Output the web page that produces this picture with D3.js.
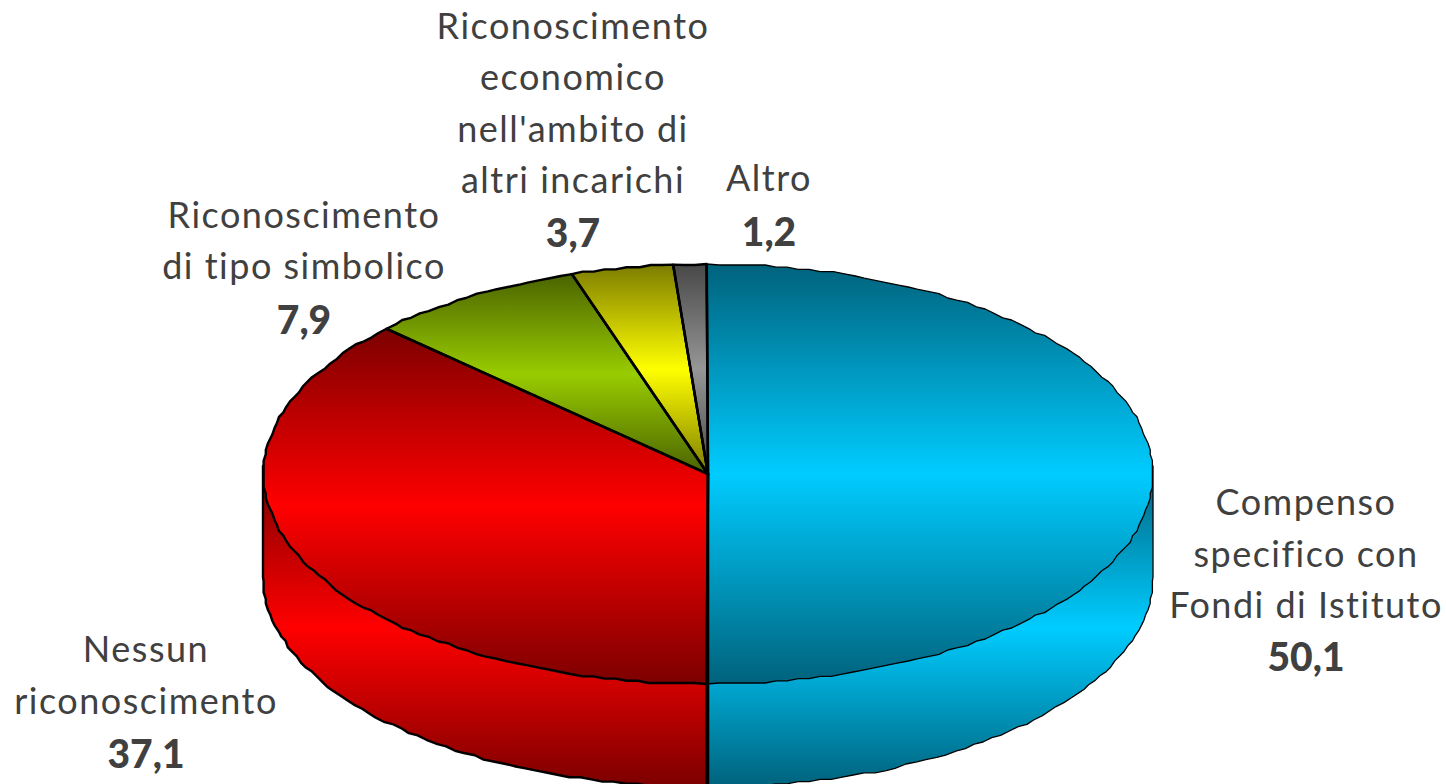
<!DOCTYPE html>
<html><head><meta charset="utf-8">
<script src="https://cdn.jsdelivr.net/npm/d3@7/dist/d3.min.js"></script>
<style>html,body{margin:0;padding:0;background:#fff;overflow:hidden}svg{display:block}
text{font-family:Lato,"Open Sans",sans-serif;fill:#404040;text-anchor:middle}</style>
</head><body><svg id="c" width="1446" height="784"></svg>
<script>
const categories = ["Compenso specifico con Fondi di Istituto","Nessun riconoscimento","Riconoscimento di tipo simbolico","Riconoscimento economico nell'ambito di altri incarichi","Altro"];
const values = [50.1,37.1,7.9,3.7,1.2];
const valueLabels = ["50,1","37,1","7,9","3,7","1,2"];
const labelLines = [["Compenso","specifico con","Fondi di Istituto"],["Nessun","riconoscimento"],["Riconoscimento","di tipo simbolico"],["Riconoscimento","economico","nell'ambito di","altri incarichi"],["Altro"]];
const brightColors = ["#00CCFF","#FF0000","#99CC00","#FFFF00","#969696"];
const darkColors = ["#00627c","#7c0000","#4a6300","#7c7c00","#484848"];
const labelCenters = [1306,146,304,573,769];
const labelFirstBaselines = [515,662,228,39,191];
const labelLineGaps = [51.5,52,51,51.3,51];
const valueBaselines = [671,768,334,247,246];

const W=1446,H=784,cx=708,cy=474,rx=445,ry=210,depth=103;
const svg=d3.select("#c"), defs=svg.append("defs");
function stops(g,dark,bright){
  g.append("stop").attr("offset",0).attr("stop-color",dark);
  g.append("stop").attr("offset",.5).attr("stop-color",bright);
  g.append("stop").attr("offset",1).attr("stop-color",dark);
}
categories.forEach((c,i)=>{
  stops(defs.append("linearGradient").attr("id","top"+i).attr("x1",0).attr("x2",0).attr("y1",0).attr("y2",1),darkColors[i],brightColors[i]);
  stops(defs.append("linearGradient").attr("id","side"+i).attr("gradientUnits","userSpaceOnUse")
    .attr("x1",0).attr("x2",0).attr("y1",cy-6).attr("y2",cy+ry+depth),darkColors[i],brightColors[i]);
});
const arcs=d3.pie().sort(null).startAngle(-0.003).endAngle(2*Math.PI-0.003)(values);
const grid=v=>Math.round(v/2.2)*2.2;
const pt=(a,dy=0)=>[cx+rx*Math.sin(a),cy+dy-ry*Math.cos(a)];
const rough=(p,dy)=>[grid(p[0]-cx)+cx,grid(p[1]-cy-dy)+cy+dy];
const line=d3.line();
function rim(a0,a1,dy=0){
  const n=Math.max(2,Math.ceil(Math.abs(a1-a0)/(Math.PI/120))), s=d3.scaleLinear().domain([0,n]).range([a0,a1]);
  return d3.range(n+1).map(i=>(i==0||i==n)?pt(s(i),dy):rough(pt(s(i),dy),dy));
}
const widths=[1.3,2.4,2.4,2.4,2.4];
// side walls: only the part of each slice facing the viewer
arcs.forEach((d,i)=>{
  const a0=Math.max(d.startAngle,Math.PI/2), a1=Math.min(d.endAngle,3*Math.PI/2);
  if(a1<=a0) return;
  const bottom=rim(a0,a1,depth);
  svg.append("path").attr("d",line([pt(a0,-8)].concat(bottom,[pt(a1,-8),[cx,cy]]))+"Z")
    .attr("fill",`url(#side${i})`).attr("stroke","#000").attr("stroke-width",widths[i]).attr("stroke-linejoin","round");
});
// top faces
arcs.forEach((d,i)=>{
  const pts=[[cx,cy]].concat(rim(d.startAngle,d.endAngle,0));
  svg.append("path").attr("d",line(pts)+"Z").attr("fill",`url(#top${i})`)
    .attr("stroke","#000").attr("stroke-width",widths[i]).attr("stroke-linejoin","round");
});
// slice separators
arcs.forEach(d=>{
  svg.append("path").attr("d",line([[cx,cy],pt(d.startAngle)])).attr("stroke","#000").attr("stroke-width",2.6).attr("fill","none");
});
svg.append("path").attr("d",line([[cx,cy],[cx,H]])).attr("stroke","#000").attr("stroke-width",2.6).attr("fill","none");
// labels
categories.forEach((c,i)=>{
  labelLines[i].forEach((t,j)=>{
    svg.append("text").attr("x",labelCenters[i]).attr("y",labelFirstBaselines[i]+j*labelLineGaps[i])
      .attr("font-size",36).attr("letter-spacing",1.5).text(t);
  });
  svg.append("text").attr("x",labelCenters[i]).attr("y",valueBaselines[i])
    .attr("font-size",39).attr("font-weight",900).text(valueLabels[i]);
});
</script></body></html>
